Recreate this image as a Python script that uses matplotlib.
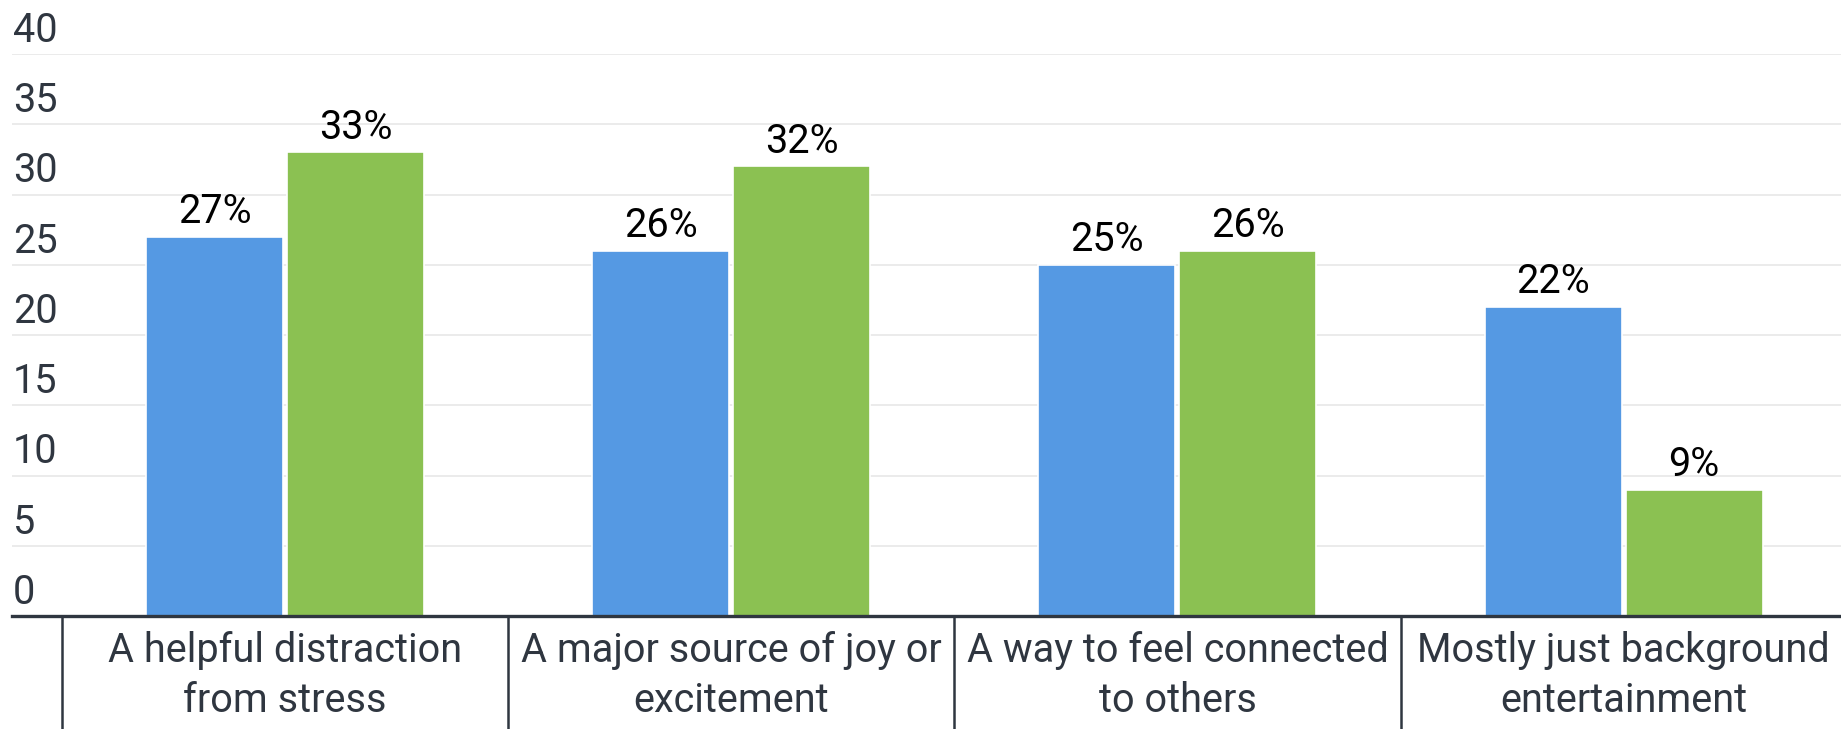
import matplotlib
matplotlib.use("Agg")
import matplotlib.pyplot as plt
import numpy as np

categories = ["A helpful distraction\nfrom stress",
              "A major source of joy or\nexcitement",
              "A way to feel connected\nto others",
              "Mostly just background\nentertainment"]
series_blue = [27, 26, 25, 22]
series_green = [33, 32, 26, 9]
yticks = [0, 5, 10, 15, 20, 25, 30, 35, 40]

plt.rcParams['font.family'] = ['Roboto', 'DejaVu Sans']
TXT = '#2f3640'
BLUE = '#5599E3'
GREEN = '#8BC152'
FS = 28.5

W, H = 1841, 729
fig = plt.figure(figsize=(W / 100, H / 100), dpi=100)
left, right = 12 / W, 1.0
bottom, top = (H - 616) / H, (H - 54) / H
ax = fig.add_axes([left, bottom, right - left, top - bottom])

x = np.arange(len(categories))
bw = 0.307
off = 0.158
b1 = ax.bar(x - off, series_blue, bw, color=BLUE, edgecolor='white', linewidth=1.2, zorder=3)
b2 = ax.bar(x + off, series_green, bw, color=GREEN, edgecolor='white', linewidth=1.2, zorder=3)
for bars in (b1, b2):
    ax.bar_label(bars, labels=[f"{v:g}%" for v in bars.datavalues], padding=4,
                 fontsize=FS, color='black')

ax.set_xlim(-0.612, 3.487)
ax.set_ylim(0, 40)

ax.set_yticks(yticks)
ax.yaxis.grid(True, color='#e6e6e6', linewidth=1.1, zorder=0)
ax.set_axisbelow(True)
ax.tick_params(axis='y', length=0, labelleft=False)
for v in yticks:
    ax.annotate(str(v), xy=(0, v), xycoords=('axes fraction', 'data'),
                xytext=(0.5, 3), textcoords='offset points', ha='left', va='bottom',
                fontsize=FS, color=TXT)

ax.set_xticks(x)
ax.set_xticklabels(categories, fontsize=FS, color=TXT, linespacing=1.33)
ax.tick_params(axis='x', length=0, pad=11)

for s in ('top', 'right', 'left'):
    ax.spines[s].set_visible(False)
ax.spines['bottom'].set_color(TXT)
ax.spines['bottom'].set_linewidth(2.4)
ax.spines['bottom'].set_zorder(5)

for b in np.arange(len(categories)) - 0.5:
    ax.axvline(b, ymin=-0.25, ymax=0, color=TXT, linewidth=1.8, clip_on=False)

fig.savefig("out.png", dpi=100)
